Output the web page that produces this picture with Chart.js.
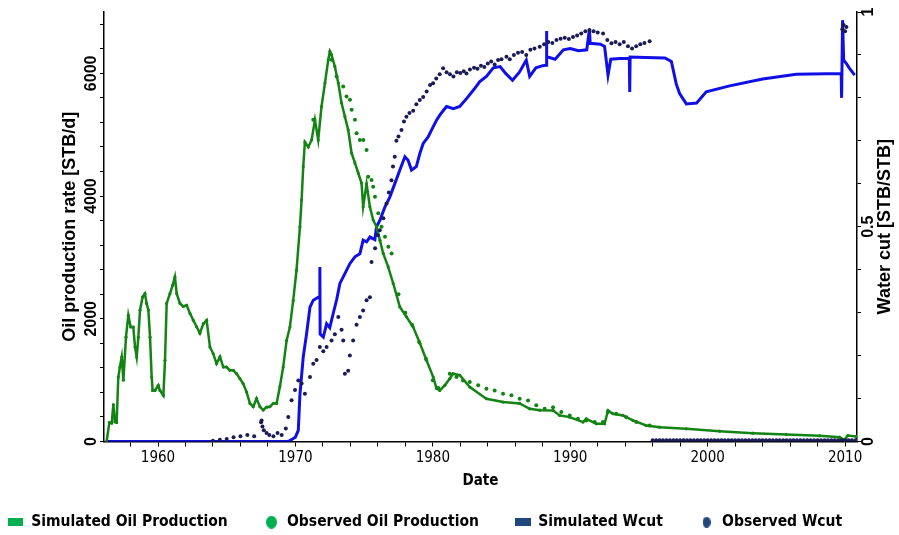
<!DOCTYPE html>
<html>
<head>
<meta charset="utf-8">
<title>Oil production and water cut</title>
<script src="https://cdn.jsdelivr.net/npm/chart.js@4.4.1/dist/chart.umd.min.js"></script>
<style>
  body { margin: 0; background: #fff; }
</style>
</head>
<body>
<canvas id="mychart" width="899" height="535"></canvas>
<script>
// simulated oil production rate [STB/d]
let simOilYear = [1956.26, 1956.46, 1956.63, 1956.75, 1956.87, 1956.99, 1957.11, 1957.23, 1957.36, 1957.48,
    1957.67, 1957.84, 1958.01, 1958.2, 1958.33, 1958.45, 1958.57, 1958.69, 1958.88, 1959.05,
    1959.17, 1959.3, 1959.42, 1959.54, 1959.61, 1959.78, 1960.02, 1960.14, 1960.39, 1960.51,
    1960.63, 1960.87, 1961.07, 1961.23, 1961.36, 1961.6, 1961.84, 1962.08, 1962.33, 1962.57,
    1962.81, 1963.05, 1963.3, 1963.54, 1963.78, 1964.02, 1964.26, 1964.51, 1964.75, 1964.99,
    1965.23, 1965.48, 1965.72, 1965.96, 1966.2, 1966.45, 1966.69, 1966.93, 1967.17, 1967.42,
    1967.66, 1967.9, 1968.14, 1968.39, 1968.63, 1968.87, 1969.11, 1969.36, 1969.6, 1969.84,
    1970.08, 1970.33, 1970.45, 1970.57, 1970.69, 1970.94, 1971.18, 1971.42, 1971.66, 1971.9,
    1972.15, 1972.39, 1972.51, 1972.63, 1972.87, 1973.12, 1973.36, 1973.6, 1973.84, 1974.09,
    1974.33, 1974.57, 1974.81, 1974.93, 1975.18, 1975.42, 1975.66, 1975.9, 1976.15, 1976.39,
    1976.75, 1977.12, 1977.6, 1978.09, 1978.57, 1979.06, 1979.54, 1980.03, 1980.27, 1980.5,
    1980.87, 1981.23, 1981.47, 1981.96, 1982.69, 1983.9, 1985.11, 1986.32, 1987.05, 1987.78,
    1988.75, 1989.23, 1989.96, 1990.93, 1991.17, 1991.9, 1992.5, 1992.75, 1993.11, 1993.84,
    1994.56, 1995.53, 1996.5, 1998.44, 2000.87, 2003.29, 2005.72, 2008.14, 2009.6, 2009.96,
    2010.2, 2010.81];
let simOilRate = [0, 310, 300, 600, 320, 310, 1050, 1213, 1376, 1000,
    1700, 2058, 1866, 1866, 1540, 1376, 1700, 2140, 2356, 2410,
    2250, 2140, 1700, 1050, 833, 833, 915, 833, 751, 1323,
    2250, 2410, 2548, 2683, 2410, 2250, 2200, 2221, 2085, 1975,
    1870, 1764, 1920, 1975, 1540, 1430, 1270, 1380, 1213, 1213,
    1160, 1160, 1105, 1024, 942, 806, 620, 566, 700, 566,
    512, 560, 566, 620, 620, 893, 1213, 1648, 1866, 2300,
    2790, 3500, 3936, 4480, 4880, 4800, 4915, 5242, 4915, 5460,
    5841, 6222, 6357, 6300, 6112, 5841, 5515, 5296, 5079, 4700,
    4540, 4376, 4213, 3826, 4200, 3826, 3610, 3500, 3282, 3065,
    2847, 2575, 2193, 2030, 1866, 1600, 1323, 1050, 865, 833,
    915, 1024, 1105, 1080, 887, 697, 643, 620, 533, 510,
    506, 425, 397, 316, 370, 288, 288, 506, 452, 425,
    343, 261, 234, 207, 169, 136, 114, 93, 71, 27,
    98, 82];

// observed oil production rate [STB/d]
let obsOilYear = [1971.3, 1972.63, 1973.0, 1973.48, 1973.72, 1973.97, 1974.09, 1974.33, 1974.45, 1974.69,
    1974.94, 1975.18, 1975.3, 1975.54, 1975.66, 1975.79, 1976.03, 1976.27, 1976.52, 1976.76,
    1977.0, 1977.5, 1978.0, 1978.5, 1979.0, 1979.5, 1980.0, 1980.4, 1981.23, 1981.72,
    1982.2, 1982.69, 1983.3, 1983.9, 1984.5, 1985.11, 1985.72, 1986.32, 1986.93, 1987.53,
    1988.14, 1988.75, 1989.35, 1989.96, 1990.56, 1991.17, 1991.78, 1992.38, 1992.75, 1993.35,
    1994.08, 1994.81, 1995.78];
let obsOilRate = [5242, 6222, 5950, 5786, 5623, 5568, 5405, 5242, 5024, 4915,
    4915, 4752, 4316, 4262, 4153, 3990, 3718, 3500, 3337, 3174,
    3065, 2400, 2100, 1900, 1620, 1350, 1000, 870, 1105, 1050,
    996, 969, 915, 860, 833, 780, 752, 697, 670, 589,
    533, 560, 479, 425, 370, 343, 316, 316, 479, 452,
    397, 316, 261];

// simulated water cut [STB/STB]
let simWcutYear = [1956.25, 1969.48, 1970.0, 1970.21, 1970.33, 1970.57, 1970.81, 1971.06, 1971.3, 1971.66,
    1971.76, 1971.78, 1971.8, 1972.03, 1972.27, 1972.5, 1972.75, 1973.0, 1973.24, 1973.6,
    1973.96, 1974.33, 1974.69, 1974.93, 1975.18, 1975.42, 1975.78, 1975.9, 1976.15, 1976.51,
    1976.87, 1977.24, 1977.6, 1977.97, 1978.2, 1978.45, 1978.8, 1979.06, 1979.3, 1979.66,
    1980.03, 1980.27, 1980.51, 1980.75, 1981.0, 1981.5, 1981.96, 1982.5, 1983.0, 1983.42,
    1983.9, 1984.4, 1984.9, 1985.3, 1985.8, 1986.3, 1986.8, 1987.05, 1987.5, 1988.0,
    1988.25, 1988.27, 1988.3, 1988.9, 1989.5, 1990.0, 1990.6, 1991.2, 1991.4, 1991.45,
    1992.2, 1992.5, 1992.75, 1992.95, 1993.6, 1994.3, 1994.33, 1994.36, 1995.5, 1996.9,
    1997.36, 1997.72, 1997.96, 1998.45, 1999.2, 1999.9, 2001.6, 2004.0, 2006.45, 2009.72,
    2009.75, 2009.82, 2009.9, 2010.1, 2010.3, 2010.7];
let simWcutValue = [0, 0, 0.01, 0.026, 0.11, 0.197, 0.25, 0.313, 0.329, 0.336,
    0.336, 0.406, 0.25, 0.243, 0.274, 0.265, 0.298, 0.33, 0.368, 0.391,
    0.414, 0.43, 0.437, 0.469, 0.465, 0.476, 0.47, 0.5, 0.515, 0.546,
    0.569, 0.601, 0.632, 0.663, 0.655, 0.632, 0.64, 0.671, 0.694, 0.709,
    0.733, 0.748, 0.76, 0.77, 0.78, 0.775, 0.78, 0.8, 0.82, 0.838,
    0.85, 0.87, 0.873, 0.857, 0.841, 0.86, 0.888, 0.85, 0.87, 0.875,
    0.876, 0.956, 0.896, 0.89, 0.912, 0.915, 0.91, 0.912, 0.96, 0.927,
    0.925, 0.92, 0.853, 0.89, 0.892, 0.892, 0.814, 0.895, 0.894, 0.893,
    0.885, 0.832, 0.81, 0.786, 0.788, 0.814, 0.828, 0.844, 0.855, 0.857,
    0.8, 0.981, 0.888, 0.88, 0.87, 0.853];

// observed water cut [STB/STB]
let obsWcutYear = [1964.0, 1964.5, 1965.0, 1965.5, 1966.0, 1966.5, 1967.0, 1967.5, 1967.54, 1967.6,
    1967.7, 1967.9, 1968.1, 1968.4, 1968.7, 1969.0, 1969.3, 1969.48, 1969.72, 1969.97,
    1970.21, 1970.45, 1970.69, 1971.06, 1971.3, 1971.54, 1971.78, 1972.03, 1972.27, 1972.63,
    1972.87, 1973.12, 1973.36, 1973.48, 1973.6, 1973.84, 1973.96, 1974.2, 1974.45, 1974.69,
    1974.93, 1975.18, 1975.42, 1975.54, 1975.8, 1976.0, 1976.14, 1976.4, 1976.63, 1976.8,
    1976.99, 1977.1, 1977.23, 1977.35, 1977.5, 1977.72, 1977.9, 1978.08, 1978.3, 1978.57,
    1978.8, 1979.05, 1979.3, 1979.55, 1979.8, 1980.02, 1980.25, 1980.5, 1980.75, 1981.0,
    1981.25, 1981.5, 1981.75, 1982.0, 1982.25, 1982.45, 1982.7, 1983.0, 1983.25, 1983.5,
    1983.75, 1984.0, 1984.25, 1984.5, 1984.75, 1985.0, 1985.36, 1985.6, 1985.9, 1986.2,
    1986.5, 1986.8, 1987.1, 1987.4, 1987.78, 1988.1, 1988.4, 1988.7, 1989.0, 1989.3,
    1989.6, 1989.9, 1990.2, 1990.5, 1990.8, 1991.1, 1991.4, 1991.7, 1992.0, 1992.39,
    1992.7, 1993.0, 1993.3, 1993.6, 1993.9, 1994.2, 1994.5, 1994.8, 1995.1, 1995.4,
    1995.78,
    1996.0, 1996.25, 1996.5, 1996.75, 1997.0, 1997.25, 1997.5, 1997.75, 1998.0, 1998.25,
    1998.5, 1998.75, 1999.0, 1999.25, 1999.5, 1999.75, 2000.0, 2000.25, 2000.5, 2000.75,
    2001.0, 2001.25, 2001.5, 2001.75, 2002.0, 2002.25, 2002.5, 2002.75, 2003.0, 2003.25,
    2003.5, 2003.75, 2004.0, 2004.25, 2004.5, 2004.75, 2005.0, 2005.25, 2005.5, 2005.75,
    2006.0, 2006.25, 2006.5, 2006.75, 2007.0, 2007.25, 2007.5, 2007.75, 2008.0, 2008.25,
    2008.5, 2008.75, 2009.0, 2009.25, 2009.5, 2009.75, 2010.0, 2010.25, 2010.5, 2010.75,
    2009.8, 2009.9, 2010.0, 2010.1];
let obsWcutValue = [0.002, 0.004, 0.006, 0.01, 0.012, 0.015, 0.012, 0.045, 0.049, 0.035,
    0.026, 0.02, 0.015, 0.012, 0.02, 0.015, 0.03, 0.057, 0.096, 0.12,
    0.142, 0.135, 0.111, 0.15, 0.181, 0.19, 0.22, 0.21, 0.22, 0.235,
    0.25, 0.29, 0.26, 0.235, 0.158, 0.165, 0.2, 0.235, 0.272, 0.29,
    0.305, 0.329, 0.336, 0.418, 0.45, 0.48, 0.492, 0.52, 0.554, 0.58,
    0.608, 0.64, 0.663, 0.7, 0.71, 0.725, 0.745, 0.756, 0.765, 0.77,
    0.785, 0.795, 0.802, 0.815, 0.83, 0.834, 0.845, 0.855, 0.869, 0.86,
    0.855, 0.85, 0.86, 0.858, 0.862, 0.857, 0.866, 0.87, 0.868, 0.875,
    0.872, 0.88, 0.885, 0.878, 0.888, 0.89, 0.896, 0.89, 0.9, 0.905,
    0.907, 0.9, 0.912, 0.915, 0.919, 0.925, 0.93, 0.928, 0.935, 0.938,
    0.94, 0.937, 0.942, 0.945, 0.95, 0.955, 0.958, 0.955, 0.952, 0.95,
    0.935, 0.927, 0.93, 0.925, 0.93, 0.92, 0.915, 0.92, 0.925, 0.928,
    0.932,
    0.003, 0.003, 0.003, 0.003, 0.003, 0.003, 0.003, 0.003, 0.003, 0.003,
    0.003, 0.003, 0.003, 0.003, 0.003, 0.003, 0.003, 0.003, 0.003, 0.003,
    0.003, 0.003, 0.003, 0.003, 0.003, 0.003, 0.003, 0.003, 0.003, 0.003,
    0.003, 0.003, 0.003, 0.003, 0.003, 0.003, 0.003, 0.003, 0.003, 0.003,
    0.003, 0.003, 0.003, 0.003, 0.003, 0.003, 0.003, 0.003, 0.003, 0.003,
    0.003, 0.003, 0.003, 0.003, 0.003, 0.003, 0.003, 0.003, 0.003, 0.003,
    0.96, 0.97, 0.955, 0.965];

let legendNames = ['Simulated Oil Production', 'Observed Oil Production', 'Simulated Wcut', 'Observed Wcut'];
let legendColors = ['#00b050', '#00b050', '#1f497d', '#1f497d'];
let oilTitle = 'Oil production rate [STB/d]';
let wcutTitle = 'Water cut [STB/STB]';
let dateTitle = 'Date';

let narrow = "'DejaVu Sans Condensed', 'Liberation Sans', sans-serif";
let wide = "'Liberation Sans', Arial, sans-serif";

function toPoints(xs, ys) {
    let pts = [];
    for (let i = 0; i < xs.length; i++) {
        pts.push({ x: xs[i], y: ys[i] });
    }
    return pts;
}

// small canvases used as legend markers
function marker(w, h, color, round) {
    let c = document.createElement('canvas');
    c.width = w;
    c.height = h;
    let g = c.getContext('2d');
    g.fillStyle = color;
    if (round) {
        g.beginPath();
        g.ellipse(w / 2, h / 2, w / 2, h / 2, 0, 0, 2 * Math.PI);
        g.fill();
    } else {
        g.fillRect(0, 0, w, h);
    }
    return c;
}

let legendMarks = [
    marker(15, 8, legendColors[0], false),
    marker(11, 13, legendColors[1], true),
    marker(16, 8, legendColors[2], false),
    marker(8, 11, legendColors[3], true)
];

// right axis title reads bottom to top, like the left one
let rightTitle = {
    id: 'rightTitle',
    afterDraw(chart) {
        let s = chart.scales.y1;
        let ctx = chart.ctx;
        ctx.save();
        ctx.font = 'bold 18px ' + wide;
        ctx.fillStyle = '#000';
        ctx.textAlign = 'center';
        ctx.textBaseline = 'middle';
        ctx.translate(s.right - 14, (s.top + s.bottom) / 2);
        ctx.rotate(-Math.PI / 2);
        ctx.fillText(wcutTitle, 0, 0);
        ctx.restore();
    }
};

let myChart = document.getElementById('mychart').getContext('2d');

let prodChart = new Chart(myChart, {
    type: 'line',
    data: {
        datasets: [{
            label: legendNames[0],
            data: toPoints(simOilYear, simOilRate),
            borderColor: '#138413',
            backgroundColor: '#138413',
            borderWidth: 2.5,
            pointRadius: 1.6,
            pointBorderWidth: 0,
            yAxisID: 'y',
            order: 2
        }, {
            label: legendNames[1],
            data: toPoints(obsOilYear, obsOilRate),
            showLine: false,
            borderColor: '#138413',
            backgroundColor: '#138413',
            pointRadius: 2,
            pointBorderWidth: 0,
            yAxisID: 'y',
            order: 1
        }, {
            label: legendNames[2],
            data: toPoints(simWcutYear, simWcutValue),
            borderColor: '#1010e6',
            backgroundColor: '#1010e6',
            borderWidth: 3,
            pointRadius: 0,
            yAxisID: 'y1',
            order: 3
        }, {
            label: legendNames[3],
            data: toPoints(obsWcutYear, obsWcutValue),
            showLine: false,
            borderColor: '#1b1b58',
            backgroundColor: '#1b1b58',
            pointRadius: 2,
            pointBorderWidth: 0,
            yAxisID: 'y1',
            order: 0
        }]
    },
    options: {
        responsive: false,
        animation: false,
        layout: { padding: { top: 12, left: -28, right: 0, bottom: -5 } },
        scales: {
            x: {
                type: 'linear',
                min: 1956.07,
                max: 2010.87,
                ticks: {
                    stepSize: 2,
                    includeBounds: false,
                    autoSkip: false,
                    maxRotation: 0,
                    padding: 3,
                    color: '#000',
                    font: { family: narrow, size: 15 },
                    callback: function (v) {
                        let r = Math.round(v);
                        return (Math.abs(v - r) < 0.01 && r % 10 === 0) ? String(r) : '';
                    }
                },
                grid: { drawOnChartArea: false, tickLength: 5, color: '#000' },
                border: { color: '#000', width: 1.5 },
                title: {
                    display: true,
                    text: dateTitle,
                    color: '#000',
                    font: { family: narrow, size: 15, weight: 'bold' },
                    padding: { top: 0, bottom: -12 }
                },
                afterFit: function (s) { s.height = 37; }
            },
            y: {
                position: 'left',
                min: 0,
                max: 7000,
                ticks: {
                    stepSize: 400,
                    includeBounds: false,
                    autoSkip: false,
                    minRotation: 90,
                    maxRotation: 90,
                    crossAlign: 'center',
                    padding: -9,
                    color: '#000',
                    font: { family: wide, size: 16, weight: 'bold' },
                    callback: function (v) { return v % 2000 === 0 ? String(v) : ''; }
                },
                grid: { drawOnChartArea: false, tickLength: 4, color: '#000' },
                border: { color: '#000', width: 1.5 },
                title: {
                    display: true,
                    text: oilTitle,
                    color: '#000',
                    font: { family: wide, size: 18, weight: 'bold' },
                    padding: { top: 87, bottom: 0 }
                },
                afterFit: function (s) { s.width = 132; }
            },
            y1: {
                position: 'right',
                min: 0,
                max: 1,
                ticks: {
                    stepSize: 0.1,
                    autoSkip: false,
                    minRotation: 90,
                    maxRotation: 90,
                    crossAlign: 'center',
                    padding: -4,
                    color: '#000',
                    font: { family: wide, size: 16, weight: 'bold' },
                    callback: function (v) {
                        if (Math.abs(v) < 1e-6) return '0';
                        if (Math.abs(v - 0.5) < 1e-6) return '0.5';
                        if (Math.abs(v - 1) < 1e-6) return '1';
                        return '';
                    }
                },
                grid: { drawOnChartArea: false, tickLength: 4, color: '#000' },
                border: { color: '#000', width: 1.5 },
                afterFit: function (s) { s.width = 42; }
            }
        },
        plugins: {
            tooltip: { enabled: false },
            legend: {
                position: 'bottom',
                align: 'start',
                labels: {
                    usePointStyle: true,
                    boxWidth: 16,
                    boxHeight: 16,
                    padding: 36,
                    color: '#000',
                    font: { family: narrow, size: 15.5, weight: 'bold' },
                    generateLabels: function () {
                        return legendNames.map(function (name, i) {
                            return {
                                text: name,
                                fillStyle: legendColors[i],
                                strokeStyle: legendColors[i],
                                lineWidth: 0,
                                pointStyle: legendMarks[i],
                                fontColor: '#000',
                                datasetIndex: i,
                                hidden: false
                            };
                        });
                    }
                }
            }
        }
    },
    plugins: [rightTitle]
});
</script>
</body>
</html>
